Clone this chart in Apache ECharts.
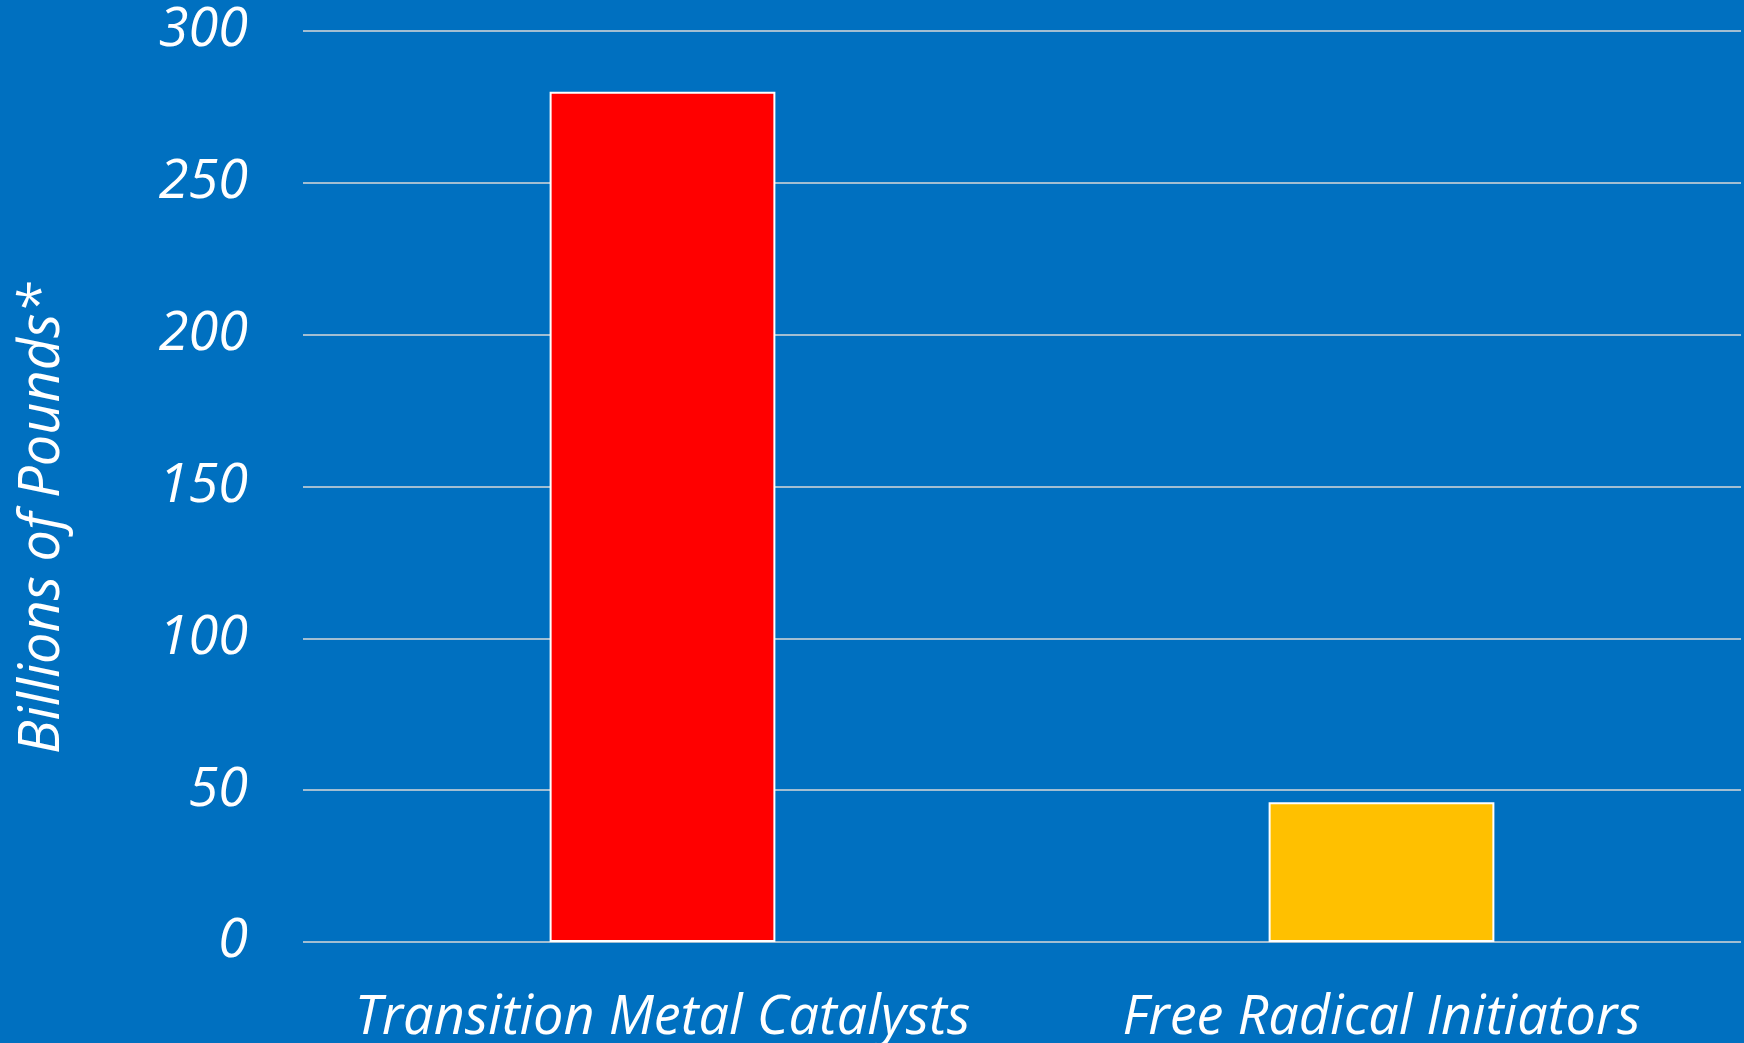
<!DOCTYPE html>
<html>
<head>
<meta charset="utf-8">
<script src="https://cdn.jsdelivr.net/npm/echarts@6/dist/echarts.min.js"></script>
<style>
  html, body { margin: 0; padding: 0; background: #0070C0; }
  #chart { width: 1744px; height: 1043px; }
</style>
</head>
<body>
<div id="chart"></div>
<script>
// categories and values
var categories = ['Transition Metal Catalysts', 'Free Radical Initiators'];
var values = [280, 46];
var barColors = ['#FF0000', '#FFC000'];

var chart = echarts.init(document.getElementById('chart'));

var option = {
  backgroundColor: '#0070C0',
  animation: false,
  grid: {
    left: 303,
    right: 3,
    top: 31,
    bottom: 101,
    outerBoundsMode: 'none',
    containLabel: false
  },
  xAxis: {
    type: 'category',
    data: categories,
    axisLine: { show: false },
    axisTick: { show: false },
    axisLabel: {
      interval: 0,
      color: '#ffffff',
      fontFamily: 'Open Sans',
      fontStyle: 'italic',
      fontSize: 54,
      margin: 50
    }
  },
  yAxis: {
    type: 'value',
    min: 0,
    max: 300,
    interval: 50,
    name: 'Billions of Pounds*',
    nameLocation: 'middle',
    nameGap: 232,
    nameTextStyle: {
      color: '#ffffff',
      fontFamily: 'Open Sans',
      fontStyle: 'italic',
      fontSize: 56,
      padding: [0, 64, 0, 0]
    },
    axisLine: { show: false },
    axisTick: { show: false },
    axisLabel: {
      color: '#ffffff',
      fontFamily: 'Open Sans',
      fontStyle: 'italic',
      fontSize: 54,
      margin: 55
    },
    splitLine: {
      lineStyle: { color: '#D9D9D9', width: 1.5 }
    }
  },
  series: [{
    type: 'bar',
    barWidth: '31.4%',
    data: values.map(function (v, i) {
      return { value: v, itemStyle: { color: barColors[i] } };
    }),
    itemStyle: {
      borderColor: '#ffffff',
      borderWidth: 2
    }
  }]
};

chart.setOption(option);
</script>
</body>
</html>
